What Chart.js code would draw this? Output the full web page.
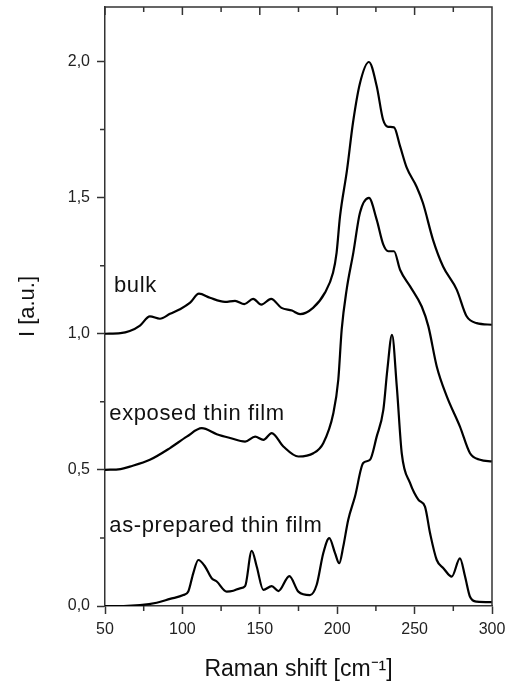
<!DOCTYPE html>
<html>
<head>
<meta charset="utf-8">
<script src="https://cdn.jsdelivr.net/npm/chart.js@4/dist/chart.umd.min.js"></script>
<style>
  body { margin: 0; background: #fff; }
  canvas { display: block; }
</style>
</head>
<body>
<canvas id="ramanChart" width="509" height="684"></canvas>
<script>
// Raman spectra (shift in cm-1, intensity in a.u., curves offset by 0.5)
var bulkShift = [50, 60, 66, 72.6, 79, 85.5, 92, 98.4, 105, 110.7, 117.8, 127.5, 134, 140, 145.7, 151, 157.3, 164, 170.8, 176, 184.4, 192, 197.3, 199.6, 201.8, 206.3, 210.2, 214.7, 220.5, 225.5, 229.6, 232.9, 236.7, 240.6, 244.9, 251.3, 255.4, 261.9, 268.4, 277.2, 283.6, 290.1, 300];
var bulkI = [1.0, 1.002, 1.01, 1.03, 1.064, 1.055, 1.073, 1.09, 1.114, 1.147, 1.132, 1.117, 1.121, 1.109, 1.128, 1.107, 1.128, 1.095, 1.085, 1.072, 1.095, 1.15, 1.224, 1.297, 1.43, 1.60, 1.775, 1.92, 1.998, 1.91, 1.787, 1.76, 1.758, 1.689, 1.61, 1.54, 1.48, 1.345, 1.247, 1.162, 1.064, 1.039, 1.033];

var exposedShift = [50, 60, 66, 79, 92, 102.8, 112.5, 122.2, 130.8, 140.5, 147, 152.3, 157.7, 165.2, 174.9, 184.6, 191, 197.5, 200.7, 202.9, 206.1, 210.4, 214.7, 220.5, 225.5, 229.8, 233, 236.7, 240.6, 247.1, 254.6, 258.9, 264.3, 270.8, 279.3, 285.8, 292.3, 300];
var exposedI = [0.5, 0.503, 0.512, 0.537, 0.58, 0.622, 0.653, 0.631, 0.617, 0.604, 0.622, 0.61, 0.635, 0.586, 0.549, 0.561, 0.598, 0.708, 0.831, 1.015, 1.162, 1.297, 1.444, 1.499, 1.419, 1.327, 1.303, 1.303, 1.235, 1.174, 1.10, 1.027, 0.88, 0.77, 0.659, 0.561, 0.537, 0.531];

var preparedShift = [50, 62, 72.6, 83.4, 92, 100.6, 103.8, 107, 110.3, 114.6, 118.9, 122.2, 128.6, 132.9, 137.2, 140.5, 144.8, 148, 152.3, 157.7, 162, 169.1, 174.9, 182.4, 186.7, 191, 194.9, 198.6, 201.3, 203.9, 207.1, 211.5, 216.8, 221.2, 225.5, 229.8, 232.4, 235.4, 238.5, 241.7, 247.1, 252.5, 256.7, 260, 264.3, 268.6, 274, 279.3, 282.6, 285.8, 290.1, 300];
var preparedI = [0, 0, 0.003, 0.012, 0.026, 0.04, 0.053, 0.12, 0.169, 0.145, 0.102, 0.09, 0.053, 0.056, 0.065, 0.073, 0.203, 0.145, 0.059, 0.073, 0.055, 0.11, 0.053, 0.04, 0.077, 0.194, 0.249, 0.194, 0.157, 0.218, 0.316, 0.402, 0.525, 0.537, 0.622, 0.72, 0.868, 0.996, 0.806, 0.561, 0.451, 0.39, 0.365, 0.267, 0.169, 0.139, 0.108, 0.175, 0.108, 0.034, 0.016, 0.014];

var curveNames = ["bulk", "exposed thin film", "as-prepared thin film"];
var xMajorTicks = [50, 100, 150, 200, 250, 300];
var xMinorTicks = [75, 125, 175, 225, 275];
var yMinorTicks = [0.25, 0.75, 1.25, 1.75];

function toPoints(xs, ys)
{
	return xs.map(function(x, i) { return {x: x, y: ys[i]}; });
}

function curve(label, xs, ys)
{
	return {
		label: label,
		data: toPoints(xs, ys),
		borderColor: "#000",
		borderWidth: 2.2,
		pointRadius: 0,
		fill: false,
		cubicInterpolationMode: "monotone"
	};
}

// where the curve names sit (data coords, baseline-left)
var nameSpots = [[55.8, 1.154], [52.8, 0.684], [52.8, 0.272]];

// box, minor ticks, inward top ticks and the curve names
var framePlugin = {
	id: "frame",
	afterDraw: function(chart)
	{
		var ctx = chart.ctx, a = chart.chartArea;
		var xs = chart.scales.x, ys = chart.scales.y;
		ctx.save();
		ctx.strokeStyle = "#333";
		ctx.lineWidth = 1.5;
		ctx.beginPath();
		ctx.moveTo(a.left, a.top); ctx.lineTo(a.right, a.top); ctx.lineTo(a.right, a.bottom);
		xMinorTicks.forEach(function(v) {
			var px = xs.getPixelForValue(v);
			ctx.moveTo(px, a.bottom); ctx.lineTo(px, a.bottom + 5);
			ctx.moveTo(px, a.top); ctx.lineTo(px, a.top + 5);
		});
		xMajorTicks.forEach(function(v) {
			var px = xs.getPixelForValue(v);
			ctx.moveTo(px, a.top); ctx.lineTo(px, a.top + 8);
		});
		yMinorTicks.forEach(function(v) {
			var py = ys.getPixelForValue(v);
			ctx.moveTo(a.left, py); ctx.lineTo(a.left - 5, py);
		});
		ctx.stroke();

		ctx.fillStyle = "#111";
		ctx.font = "22px 'Liberation Sans', Arial, sans-serif";
		ctx.letterSpacing = "0.6px";
		ctx.textBaseline = "alphabetic";
		ctx.textAlign = "left";
		curveNames.forEach(function(name, i) {
			ctx.fillText(name, xs.getPixelForValue(nameSpots[i][0]), ys.getPixelForValue(nameSpots[i][1]));
		});
		ctx.restore();
	}
};

new Chart("ramanChart",
{
	type: "line",
	data:
	{
		datasets: [
			curve(curveNames[0], bulkShift, bulkI),
			curve(curveNames[1], exposedShift, exposedI),
			curve(curveNames[2], preparedShift, preparedI)
		]
	},
	options:
	{
		responsive: false,
		animation: false,
		layout: {padding: {top: 7, right: 17, left: 0, bottom: 0}},
		plugins: {legend: {display: false}, tooltip: {enabled: false}},
		scales:
		{
			x:
			{
				type: "linear",
				min: 50,
				max: 300,
				afterFit: function(s) { s.height = 78; s.paddingLeft = 0; s.paddingRight = 0; },
				grid: {drawOnChartArea: false, drawTicks: true, tickLength: 8, tickColor: "#333", tickWidth: 1.5},
				border: {display: true, color: "#333", width: 1.5},
				ticks: {stepSize: 50, padding: 6, color: "#222", font: {family: "'Liberation Sans', Arial, sans-serif", size: 16}},
				title:
				{
					display: true,
					text: "Raman shift [cm\u207B\u00B9]",
					color: "#111",
					font: {family: "'Liberation Sans', Arial, sans-serif", size: 23},
					padding: {top: 0, bottom: 1}
				}
			},
			y:
			{
				min: 0,
				max: 2.2,
				afterFit: function(s) { s.width = 105; s.paddingTop = 0; s.paddingBottom = 0; },
				grid: {drawOnChartArea: false, drawTicks: true, tickLength: 8, tickColor: "#333", tickWidth: 1.5},
				border: {display: true, color: "#333", width: 1.5},
				ticks:
				{
					stepSize: 0.5,
					includeBounds: false,
					padding: 7,
					color: "#222",
					font: {family: "'Liberation Sans', Arial, sans-serif", size: 16},
					callback: function(v) { return v.toFixed(1).replace(".", ","); }
				},
				title:
				{
					display: true,
					text: "I [a.u.]",
					color: "#111",
					font: {family: "'Liberation Sans', Arial, sans-serif", size: 22},
					padding: {top: 15, bottom: 0}
				}
			}
		}
	},
	plugins: [framePlugin]
});
</script>
</body>
</html>
